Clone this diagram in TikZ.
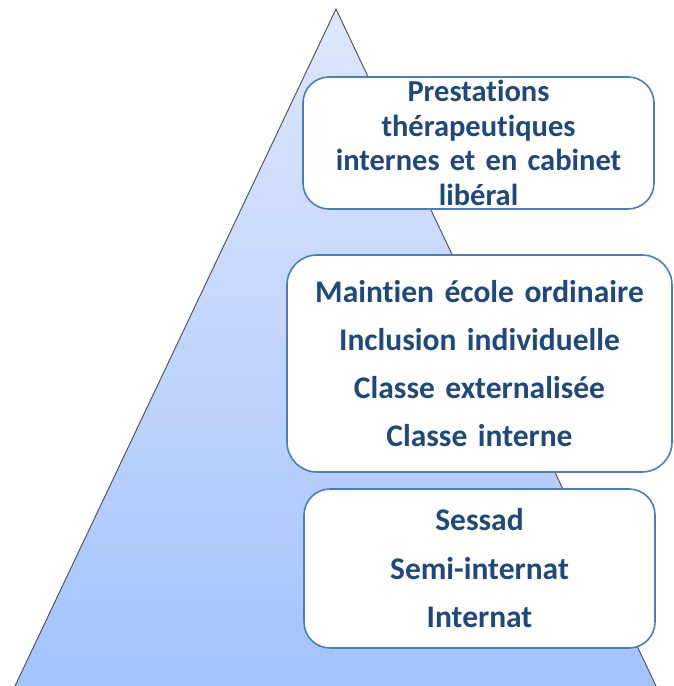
\documentclass[tikz,border=0pt]{standalone}
\usepackage{fontspec}
\setmainfont[Ligatures=NoCommon]{Carlito}
\definecolor{txtblue}{HTML}{1F497D}
\definecolor{boxline}{HTML}{4A7EBB}
\definecolor{tritop}{RGB}{222,231,252}
\definecolor{tribot}{RGB}{164,195,252}
\tikzset{
  infobox/.style={draw=boxline, line width=1.6pt, fill=white, rounded corners=26pt,
    align=center, text=txtblue, inner sep=0pt, font=\bfseries},
}
\begin{document}
\begin{tikzpicture}[x=1pt,y=1pt]
\useasboundingbox (0,0) rectangle (673,-686);
\coordinate (apex) at (336,-9);
\coordinate (bl) at (15,-686);
\coordinate (br) at (656,-686);
\path[top color=tritop, bottom color=tribot] (apex) -- (bl) -- (br) -- cycle;
\draw[line width=0.9pt, draw=black!70] (bl) -- (apex) -- (br);
\node[infobox, minimum width=351pt, minimum height=132pt, text width=340pt,
  font=\bfseries\fontsize{30.5}{34.5}\selectfont] (b1) at (478.5,-143)
  {Prestations\\th\'erapeutiques\\internes et en cabinet\\lib\'eral};
\node[infobox, rounded corners=30pt, minimum width=385pt, minimum height=217pt, text width=375pt,
  font=\bfseries\fontsize{31.5}{48}\selectfont] (b2) at (479.5,-363.5)
  {Maintien école ordinaire\\Inclusion individuelle\\Classe externalisée\\Classe interne};
\node[infobox, minimum width=351pt, minimum height=159pt, text width=340pt,
  font=\bfseries\fontsize{31.5}{48.5}\selectfont] (b3) at (479.5,-568.5)
  {Sessad\\Semi-internat\\Internat};
\end{tikzpicture}
\end{document}
